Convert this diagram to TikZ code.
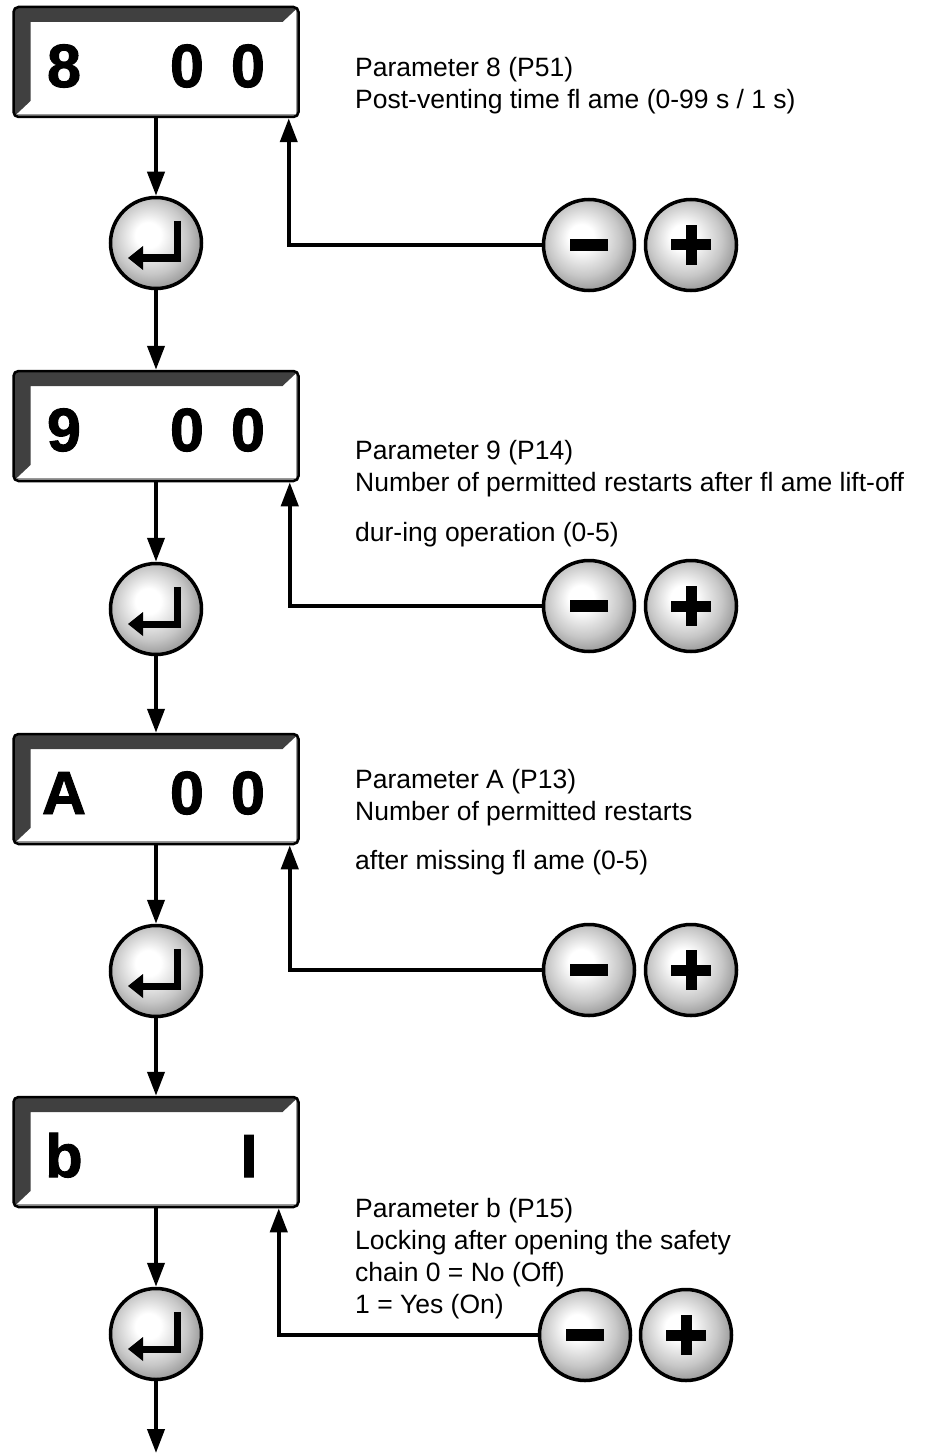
\documentclass[tikz,border=0pt]{standalone}
\usepackage{fontspec}
\setmainfont{Liberation Sans}
\newfontfamily\digfont[BoldFeatures={FakeBold=1.6}]{Liberation Sans}
\usetikzlibrary{arrows.meta,calc}
\pgfdeclareradialshading{metal}{\pgfpoint{-5bp}{5bp}}{color(0bp)=(white); color(7bp)=(white); color(20bp)=(black!22); color(30bp)=(black!45); color(36bp)=(black!62); color(50bp)=(black!65)}
\begin{document}
\begin{tikzpicture}[x=1pt,y=-1pt,
  disp/.style={rectangle, minimum width=285pt, minimum height=110pt, inner sep=0pt,
    draw=black, line width=2.5pt, rounded corners=5pt, fill=white,
    path picture={
      \fill[sharp corners, black!75]
        (path picture bounding box.north west) -- (path picture bounding box.north east)
        -- ($(path picture bounding box.north east)+(-16,15)$)
        -- ($(path picture bounding box.north west)+(17,15)$)
        -- ($(path picture bounding box.south west)+(17,-16)$)
        -- (path picture bounding box.south west) -- cycle;
      \draw[sharp corners, black!40, line width=2.5pt]
        ($(path picture bounding box.north east)+(-1.5,0)$)
        -- ($(path picture bounding box.south east)+(-1.5,-1.5)$)
        -- ($(path picture bounding box.south west)+(0,-1.5)$);
    }},
  dig/.style={inner sep=0pt, anchor=base, font=\digfont\fontsize{61}{61}\selectfont\bfseries},
  btn/.style={circle, minimum size=91pt, inner sep=0pt, draw=black, line width=3.5pt, shading=metal},
  conn/.style={line width=4pt, -{Triangle[length=24pt,width=17pt]}},
  txt/.style={inner sep=0pt, anchor=base west, font=\fontsize{26.5}{32}\selectfont},
  glyph/.style={line width=7pt, line join=miter}
]
\useasboundingbox (0,0) rectangle (926,1455);

% display boxes
\node[disp] (d1) at (156,62) {};
\node[disp] (d2) at (156,426) {};
\node[disp] (d3) at (156,789) {};
\node[disp] (d4) at (156,1152) {};

\node[dig] (d1a) at (64,87) {8};
\node[dig] (d1b) at (187,87) {0};
\node[dig] (d1c) at (248,87) {0};
\node[dig] (d2a) at (64,451) {9};
\node[dig] (d2b) at (187,451) {0};
\node[dig] (d2c) at (248,451) {0};
\node[dig] (d3a) at (64,814) {A};
\node[dig] (d3b) at (187,814) {0};
\node[dig] (d3c) at (248,814) {0};
\node[dig] (d4a) at (64,1177) {b};
\node[dig] (d4b) at (249,1177) {I};

% enter buttons
\node[btn] (e1) at (156,243) {};
\node[btn] (e2) at (156,609) {};
\node[btn] (e3) at (156,971) {};
\node[btn] (e4) at (156,1334) {};
\foreach \e in {e1,e2,e3,e4}{
  \draw[glyph] ([shift={(21,-22)}]\e.center) -- ([shift={(21,15)}]\e.center) -- ([shift={(-14,15)}]\e.center);
  \fill ([shift={(-13,3)}]\e.center) -- ([shift={(-28,15)}]\e.center) -- ([shift={(-13,27)}]\e.center) -- cycle;
}

% minus / plus buttons
\node[btn] (m1) at (589,245) {};
\node[btn] (p1) at (691,245) {};
\node[btn] (m2) at (589,606) {};
\node[btn] (p2) at (691,606) {};
\node[btn] (m3) at (589,970) {};
\node[btn] (p3) at (691,970) {};
\node[btn] (m4) at (585,1335) {};
\node[btn] (p4) at (686,1335) {};
\foreach \m in {m1,m2,m3,m4}{
  \fill ([shift={(-19,-6)}]\m.center) rectangle ([shift={(19,6)}]\m.center);
}
\foreach \p in {p1,p2,p3,p4}{
  \fill ([shift={(-20,-5.5)}]\p.center) rectangle ([shift={(20,5.5)}]\p.center);
  \fill ([shift={(-5.5,-20)}]\p.center) rectangle ([shift={(5.5,20)}]\p.center);
}

% flow arrows
\coordinate (end) at (156,1453);
\draw[conn] (d1.south) -- (e1.north);
\draw[conn] (e1.south) -- (d2.north);
\draw[conn] (d2.south) -- (e2.north);
\draw[conn] (e2.south) -- (d3.north);
\draw[conn] (d3.south) -- (e3.north);
\draw[conn] (e3.south) -- (d4.north);
\draw[conn] (d4.south) -- (e4.north);
\draw[conn] (e4.south) -- (end);

% feedback arrows
\draw[conn] (m1.west) -| ([xshift=-11pt]d1.south east);
\draw[conn] (m2.west) -| ([xshift=-10pt]d2.south east);
\draw[conn] (m3.west) -| ([xshift=-10pt]d3.south east);
\draw[conn] (m4.west) -| ([xshift=-21pt]d4.south east);

% texts
\node[txt] (t1a) at (355,77) {Parameter 8 (P51)};
\node[txt] (t1b) at (355,109) {Post-venting time fl ame (0-99 s / 1 s)};
\node[txt] (t2a) at (355,459) {Parameter 9 (P14)};
\node[txt] (t2b) at (355,491) {Number of permitted restarts after fl ame lift-off};
\node[txt] (t2c) at (355,541) {dur-ing operation (0-5)};
\node[txt] (t3a) at (355,788) {Parameter A (P13)};
\node[txt] (t3b) at (355,820) {Number of permitted restarts};
\node[txt] (t3c) at (355,869) {after missing fl ame (0-5)};
\node[txt] (t4a) at (355,1217) {Parameter b (P15)};
\node[txt] (t4b) at (355,1249) {Locking after opening the safety};
\node[txt] (t4c) at (355,1281) {chain 0 = No (Off)};
\node[txt] (t4d) at (355,1313) {1 = Yes (On)};
\end{tikzpicture}
\end{document}
